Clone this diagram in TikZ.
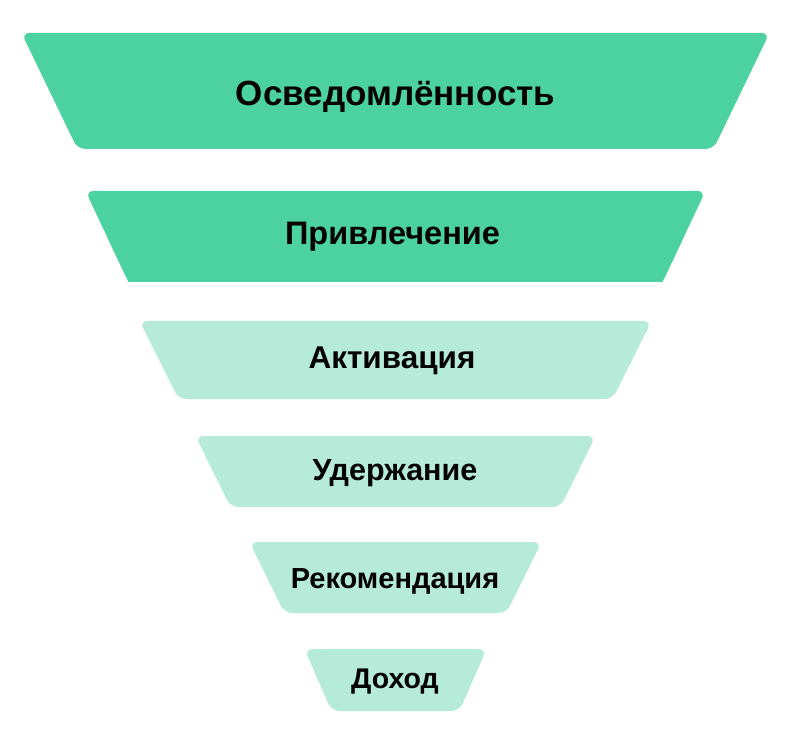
\documentclass[tikz,border=0pt]{standalone}
\usepackage{fontspec}
\setmainfont{Liberation Sans}
\definecolor{darkmint}{HTML}{4CD1A0}
\definecolor{lightmint}{HTML}{B5EBD8}
\begin{document}
\begin{tikzpicture}[x=1pt,y=-1pt,
  stagelabel/.style={font=\bfseries\fontsize{#1}{#1}\selectfont, text=black, inner sep=0pt, anchor=base},
  stagelabel/.default=30,
  darkstage/.style={fill=darkmint, rounded corners=8pt},
  lightstage/.style={fill=lightmint, rounded corners=8pt}]
\useasboundingbox (0,0) rectangle (790,743);
% stage 1
\fill[darkstage] (77.5,149) -- (21.5,33) -- (769.5,33) -- (713.5,149) -- cycle;
\node[stagelabel=35] (s1) at (395.5,105.5) {Осведомлённость};
% stage 2 (sharp bottom corners)
\fill[darkstage] (128.5,282) -- (85.5,191) -- (705.5,191) -- (662.5,282) -- cycle;
\fill[darkmint] (128.5,282) -- (107,236.5) -- (684,236.5) -- (662.5,282) -- cycle;
\node[stagelabel=32.5] (s2) at (392.5,245) {Привлечение};
% stage 3
\fill[lightstage] (178.5,399) -- (139.5,321) -- (651.5,321) -- (612.5,399) -- cycle;
\node[stagelabel=31.5] (s3) at (392,369) {Активация};
% stage 4
\fill[lightstage] (230.5,507) -- (195.5,436) -- (595.5,436) -- (560.5,507) -- cycle;
\node[stagelabel=30.5] (s4) at (395,480) {Удержание};
% stage 5
\fill[lightstage] (284.5,613) -- (249.5,542) -- (541.5,542) -- (506.5,613) -- cycle;
\node[stagelabel=29] (s5) at (395,588) {Рекомендация};
% stage 6
\fill[lightstage] (331.5,711) -- (304.5,649) -- (486.5,649) -- (459.5,711) -- cycle;
\node[stagelabel=28.5] (s6) at (395,688) {Доход};
\end{tikzpicture}
\end{document}
